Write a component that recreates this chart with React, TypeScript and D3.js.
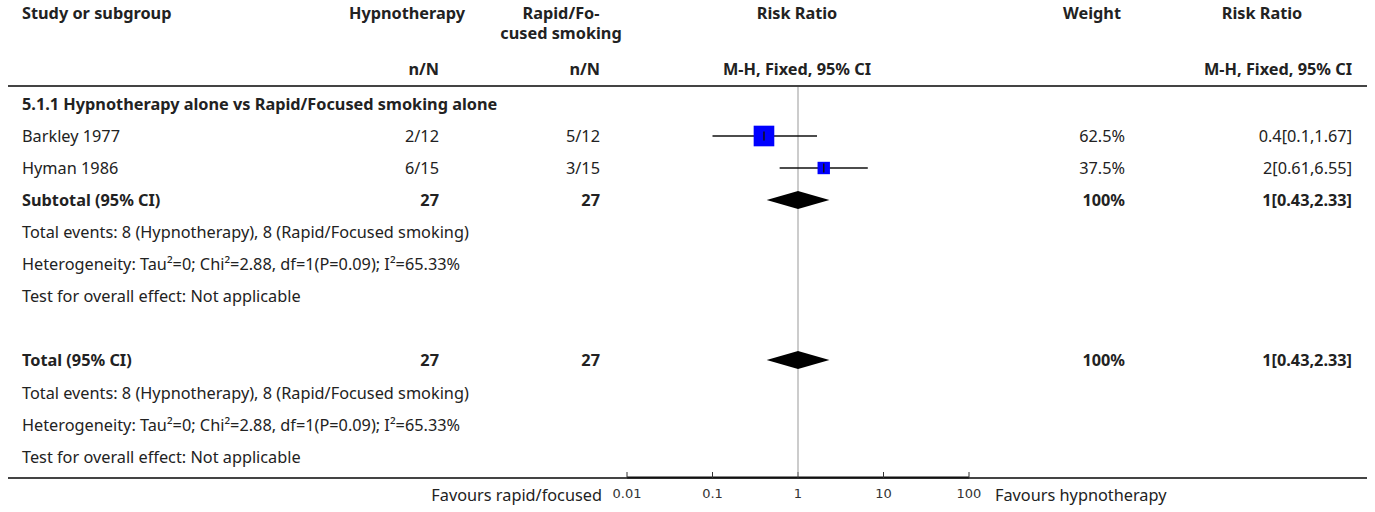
import React from "react";
import * as d3 from "d3";

// study rows
const studies = ["Barkley 1977", "Hyman 1986"];
const hypEvents = [2, 6];
const hypTotal = [12, 15];
const rapidEvents = [5, 3];
const rapidTotal = [12, 15];
const riskRatio = [0.4, 2];
const ciLow = [0.1, 0.61];
const ciHigh = [1.67, 6.55];
const weights = [62.5, 37.5];

// pooled
const pooledRR = 1;
const pooledLow = 0.43;
const pooledHigh = 2.33;
const pooledHypTotal = 27;
const pooledRapidTotal = 27;

const axisTicks = [0.01, 0.1, 1, 10, 100];
const tickLabels = ["0.01", "0.1", "1", "10", "100"];

const groupLabel = "5.1.1 Hypnotherapy alone vs Rapid/Focused smoking alone";
const eventsText = "Total events: 8 (Hypnotherapy), 8 (Rapid/Focused smoking)";
const hetText = "Heterogeneity: Tau\u00B2=0; Chi\u00B2=2.88, df=1(P=0.09); I\u00B2=65.33%";
const effectText = "Test for overall effect: Not applicable";

const FONT = "'Noto Sans', 'Open Sans', sans-serif";
const TXT = "#222";

export default function App() {
  const W = 1375, H = 512;
  const x = d3.scaleLog().domain([0.01, 100]).range([627, 969]);
  const rowH = 32;
  const firstRow = 136;
  const rowY = (i: number) => firstRow + i * rowH;
  const subY = rowY(2);
  const totalY = 360;
  const colHyp = 439, colRapid = 600, colWeight = 1125, colRR = 1352;
  const fmtCI = (r: number, l: number, h: number) => `${r}[${l},${h}]`;

  const diamond = (cy: number) => {
    const h = 9;
    return `M${x(pooledLow)},${cy} L${x(pooledRR)},${cy - h} L${x(pooledHigh)},${cy} L${x(pooledRR)},${cy + h} Z`;
  };

  const bold = { fontWeight: 700 };

  const footRows = (y0: number) => [eventsText, hetText, effectText].map((t, i) => (
    <text key={t + y0} x={22} y={y0 + i * rowH} dominantBaseline="central">{t}</text>
  ));

  return (
    <svg width={W} height={H} style={{ position: "absolute", left: 0, top: 0, background: "#fff" }}
      fontFamily={FONT} fontSize={16.3} fill={TXT}>
      {/* header */}
      <g style={bold}>
        <text x={22} y={13} dominantBaseline="central">Study or subgroup</text>
        <text x={407} y={13} textAnchor="middle" dominantBaseline="central">Hypnotherapy</text>
        <text x={561} y={13} textAnchor="middle" dominantBaseline="central">Rapid/Fo-</text>
        <text x={561} y={33} textAnchor="middle" dominantBaseline="central">cused smoking</text>
        <text x={797} y={13} textAnchor="middle" dominantBaseline="central">Risk Ratio</text>
        <text x={1092} y={13} textAnchor="middle" dominantBaseline="central">Weight</text>
        <text x={1262} y={13} textAnchor="middle" dominantBaseline="central">Risk Ratio</text>
        <text x={colHyp} y={69} textAnchor="end" dominantBaseline="central">n/N</text>
        <text x={colRapid} y={69} textAnchor="end" dominantBaseline="central">n/N</text>
        <text x={797} y={69} textAnchor="middle" dominantBaseline="central">M-H, Fixed, 95% CI</text>
        <text x={colRR} y={69} textAnchor="end" dominantBaseline="central">M-H, Fixed, 95% CI</text>
      </g>
      <line x1={8} x2={1367} y1={86} y2={86} stroke="#444" strokeWidth={2} />

      {/* null line */}
      <line x1={x(1)} x2={x(1)} y1={87} y2={472} stroke="#aaa" strokeWidth={1.2} />

      <text x={22} y={104} style={bold} dominantBaseline="central">{groupLabel}</text>

      {studies.map((s, i) => {
        const y = rowY(i);
        const side = weights[i] * 0.33;
        return (
          <g key={s}>
            <text x={22} y={y} dominantBaseline="central">{s}</text>
            <text x={colHyp} y={y} textAnchor="end" dominantBaseline="central">{hypEvents[i]}/{hypTotal[i]}</text>
            <text x={colRapid} y={y} textAnchor="end" dominantBaseline="central">{rapidEvents[i]}/{rapidTotal[i]}</text>
            <line x1={x(ciLow[i])} x2={x(ciHigh[i])} y1={y} y2={y} stroke="#111" strokeWidth={1.5} />
            <rect x={x(riskRatio[i]) - side / 2} y={y - side / 2} width={side} height={side} fill="#0000ff" />
            <line x1={x(riskRatio[i])} x2={x(riskRatio[i])} y1={y - 4.5} y2={y + 4.5} stroke="#111" strokeWidth={1.5} />
            <text x={colWeight} y={y} textAnchor="end" dominantBaseline="central">{weights[i]}%</text>
            <text x={colRR} y={y} textAnchor="end" dominantBaseline="central">{fmtCI(riskRatio[i], ciLow[i], ciHigh[i])}</text>
          </g>
        );
      })}

      {/* subtotal */}
      <g style={bold}>
        <text x={22} y={subY} dominantBaseline="central">Subtotal (95% CI)</text>
        <text x={colHyp} y={subY} textAnchor="end" dominantBaseline="central">{pooledHypTotal}</text>
        <text x={colRapid} y={subY} textAnchor="end" dominantBaseline="central">{pooledRapidTotal}</text>
        <text x={colWeight} y={subY} textAnchor="end" dominantBaseline="central">100%</text>
        <text x={colRR} y={subY} textAnchor="end" dominantBaseline="central">{fmtCI(pooledRR, pooledLow, pooledHigh)}</text>
      </g>
      <path d={diamond(subY)} fill="#000" />
      {footRows(rowY(3))}

      {/* overall total */}
      <g style={bold}>
        <text x={22} y={totalY} dominantBaseline="central">Total (95% CI)</text>
        <text x={colHyp} y={totalY} textAnchor="end" dominantBaseline="central">{pooledHypTotal}</text>
        <text x={colRapid} y={totalY} textAnchor="end" dominantBaseline="central">{pooledRapidTotal}</text>
        <text x={colWeight} y={totalY} textAnchor="end" dominantBaseline="central">100%</text>
        <text x={colRR} y={totalY} textAnchor="end" dominantBaseline="central">{fmtCI(pooledRR, pooledLow, pooledHigh)}</text>
      </g>
      <path d={diamond(totalY)} fill="#000" />
      {footRows(totalY + rowH + 1)}

      {/* bottom rule + axis */}
      <line x1={8} x2={1367} y1={478} y2={478} stroke="#444" strokeWidth={2} />
      <line x1={x(0.01)} x2={x(100)} y1={477.5} y2={477.5} stroke="#111" strokeWidth={2} />
      {axisTicks.map((t, i) => (
        <g key={t}>
          <line x1={x(t)} x2={x(t)} y1={472} y2={478} stroke="#333" strokeWidth={1} />
          <text x={x(t)} y={493} textAnchor="middle" dominantBaseline="central"
            fontFamily="'DejaVu Sans', sans-serif" fontSize={13} fill="#333">{tickLabels[i]}</text>
        </g>
      ))}
      <text x={602} y={495} textAnchor="end" dominantBaseline="central">Favours rapid/focused</text>
      <text x={995} y={495} dominantBaseline="central">Favours hypnotherapy</text>
    </svg>
  );
}
